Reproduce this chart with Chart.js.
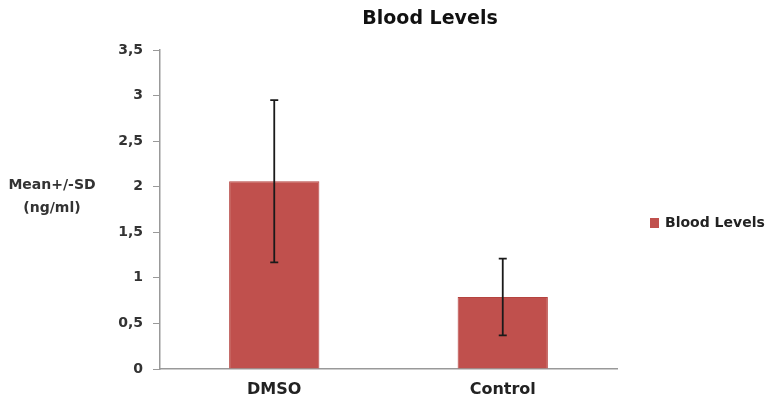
<!DOCTYPE html>
<html>
<head>
<meta charset="utf-8">
<script src="https://cdn.jsdelivr.net/npm/chart.js@4"></script>
<style>
  html, body { margin:0; padding:0; background:#fff; }
  #wrap { width:767px; height:402px; position:relative; }
</style>
</head>
<body>
<div id="wrap"><canvas id="chart"></canvas></div>
<script>
// ── Data ──────────────────────────────────────────────────────
const CATEGORIES = ['DMSO', 'Control'];
const MEANS      = [2.06, 0.79];
const SD         = [0.89, 0.42];
const SERIES     = 'Blood Levels';
const TITLE      = 'Blood Levels';
const Y_TITLE    = ['Mean+/-SD', '(ng/ml)'];
const Y_TICKS    = [0, 0.5, 1, 1.5, 2, 2.5, 3, 3.5];

const RED  = '#C0504D';
const AXIS = '#999999';
const FONT = '"DejaVu Sans", Arial, sans-serif';

// ── Error bars, title, y title and legend drawn after the bars ─
const extras = {
  id: 'extras',
  afterDatasetsDraw(chart) {
    const { ctx, scales: { x, y } } = chart;
    ctx.save();
    ctx.strokeStyle = '#1a1a1a';
    ctx.lineWidth = 1.8;
    MEANS.forEach((m, i) => {
      const px  = x.getPixelForValue(i);
      const top = y.getPixelForValue(m + SD[i]);
      const bot = y.getPixelForValue(m - SD[i]);
      ctx.beginPath();
      ctx.moveTo(px, top); ctx.lineTo(px, bot);
      ctx.moveTo(px - 4, top); ctx.lineTo(px + 4, top);
      ctx.moveTo(px - 4, bot); ctx.lineTo(px + 4, bot);
      ctx.stroke();
    });
    ctx.restore();
  },
  afterDraw(chart) {
    const { ctx } = chart;
    ctx.save();
    ctx.fillStyle = '#111';
    ctx.textAlign = 'center';
    ctx.textBaseline = 'middle';
    ctx.font = `bold 19px ${FONT}`;
    ctx.fillText(TITLE, 430, 19);

    ctx.fillStyle = '#333';
    ctx.font = `bold 14px ${FONT}`;
    ctx.fillText(Y_TITLE[0], 52, 185);
    ctx.fillText(Y_TITLE[1], 52, 208);

    // legend
    const ly = 223;
    ctx.fillStyle = RED;
    ctx.fillRect(650, ly - 5, 9, 10);
    ctx.fillStyle = '#222';
    ctx.textAlign = 'left';
    ctx.fillText(SERIES, 665, ly);
    ctx.restore();
  }
};

new Chart(document.getElementById('chart'), {
  type: 'bar',
  data: {
    labels: CATEGORIES,
    datasets: [{
      label: SERIES,
      data: MEANS,
      backgroundColor: RED,
      borderColor: '#b5433f',
      borderWidth: 1,
      categoryPercentage: 1,
      barPercentage: 0.395
    }]
  },
  options: {
    responsive: true, maintainAspectRatio: false,
    animation: false,
    layout: { padding: { left: 100, right: 150, top: 50, bottom: 0 } },
    plugins: { legend: { display: false }, title: { display: false }, tooltip: { enabled: false } },
    scales: {
      x: {
        grid: { display: true, drawOnChartArea: false, drawTicks: false },
        border: { display: true, color: AXIS, width: 1.5 },
        ticks: { color: '#222', padding: 11, font: { family: FONT, size: 16, weight: 'bold' } },
        afterFit: s => { s.height = 33; }
      },
      y: {
        min: 0, max: 3.5,
        afterBuildTicks: s => { s.ticks = Y_TICKS.map(v => ({ value: v })); },
        grid: { display: true, drawOnChartArea: false, drawTicks: true, tickLength: 7, tickColor: AXIS },
        border: { display: true, color: AXIS, width: 1.5 },
        ticks: {
          color: '#333', padding: 10,
          font: { family: FONT, size: 14, weight: 'bold' },
          callback: v => String(v).replace('.', ',')
        },
        afterFit: s => { s.width = 60; }
      }
    }
  },
  plugins: [extras]
});
</script>
</body>
</html>
